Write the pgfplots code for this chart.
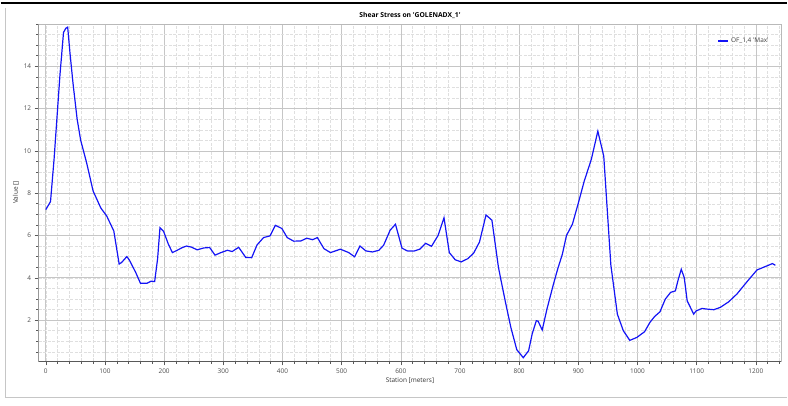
\documentclass[border=0pt]{standalone}
\usepackage{fontspec}
\usepackage{pgfplots}
\pgfplotsset{compat=1.18}
\newfontfamily\uifont{Open Sans}
\setmainfont{Open Sans}
\definecolor{lineblue}{RGB}{20,20,245}
\begin{document}
\begin{tikzpicture}[font=\uifont]
\path (0,0) rectangle (788bp,406bp);
\draw[black, line width=1.5bp] (0,403bp) -- (788bp,403bp);
\draw[gray!45, line width=1.2bp] (5bp,398bp) -- (5bp,8bp) -- (788bp,8bp);
\begin{axis}[
  at={(38bp,44bp)}, anchor=south west,
  scale only axis, width=744bp, height=338bp,
  xmin=-12, xmax=1243, ymin=0.05, ymax=16,
  xtick={0,100,...,1200},
  minor xtick={-0,20,...,1240},
  ytick={2,4,...,14},
  minor ytick={0.5,1,...,16},
  xtick pos=left, ytick pos=left,
  tick align=outside,
  major tick length=4bp, minor tick length=2.5bp,
  every tick/.style={gray!70!black, line width=0.5bp},
  grid=both,
  major grid style={gray!45, line width=0.6bp},
  minor grid style={gray!25, dash pattern=on 3bp off 1.5bp, line width=0.4bp},
  axis line style={gray!55, line width=0.6bp},
  /pgf/number format/assume math mode=true,
  /pgf/number format/1000 sep={},
  tick label style={font=\uifont\fontsize{6.5}{7}\selectfont, text=black!70},
  xlabel={Station [meters]},
  ylabel={Value []},
  xlabel style={font=\uifont\fontsize{6.5}{7}\selectfont, text=black!80, yshift=3bp},
  ylabel style={font=\uifont\fontsize{6.5}{7}\selectfont, text=black!80, yshift=-2bp},
  title={Shear Stress on 'GOLENADX\_1'},
  title style={font=\uifont\bfseries\fontsize{6.8}{8}\selectfont, yshift=-4bp},
  legend style={draw=none, fill=none, at={(0.99,0.97)}, anchor=north east,
    font=\uifont\fontsize{6.5}{7}\selectfont},
  legend cell align=left,
]
\addplot[color=lineblue, line width=1.2bp,
  legend image code/.code={\draw[lineblue, line width=2bp] (0bp,0bp) -- (10bp,0bp);}] coordinates {
(0,7.22) (8,7.6) (14,9.6) (19,11.6) (24,13.6) (30,15.6) (34,15.8) (37,15.85)
(41,14.6) (46,13.2) (53,11.5) (59,10.5) (69,9.44) (80,8.1) (93,7.3) (103,6.92)
(115,6.21) (124,4.65) (128,4.72) (137,5.0) (141,4.85) (152,4.25) (160,3.74)
(171,3.74) (178,3.84) (184,3.82) (189,4.9) (193,6.37) (199,6.2) (207,5.6)
(214,5.19) (222,5.3) (231,5.43) (238,5.5) (246,5.45) (256,5.32) (267,5.41)
(277,5.43) (286,5.07) (296,5.19) (307,5.3) (315,5.24) (326,5.44) (338,4.96)
(348,4.95) (357,5.55) (368,5.9) (379,5.98) (388,6.48) (399,6.33) (408,5.9)
(419,5.73) (431,5.74) (441,5.87) (451,5.8) (459,5.9) (470,5.38) (481,5.19)
(498,5.35) (512,5.19) (522,4.99) (531,5.5) (541,5.27) (552,5.22) (563,5.3)
(571,5.54) (582,6.25) (591,6.53) (602,5.4) (611,5.27) (622,5.26) (632,5.35)
(642,5.63) (652,5.49) (663,6.0) (673,6.84) (682,5.19) (692,4.85) (702,4.75)
(713,4.9) (723,5.16) (733,5.69) (744,6.97) (754,6.72) (765,4.5) (769,3.93)
(777,2.83) (786,1.65) (796,0.6) (807,0.22) (816,0.55) (822,1.34) (829,1.97)
(832,1.95) (839,1.53) (847,2.52) (858,3.7) (865,4.4) (873,5.11) (880,6.0)
(890,6.53) (901,7.63) (910,8.57) (922,9.6) (933,10.93) (943,9.75) (955,4.6)
(966,2.28) (976,1.5) (987,1.04) (999,1.18) (1012,1.45) (1021,1.89) (1029,2.17)
(1038,2.39) (1047,2.99) (1056,3.31) (1064,3.38) (1069,3.93) (1074,4.4)
(1079,4.01) (1084,2.91) (1095,2.28) (1099,2.43) (1109,2.55) (1117,2.52)
(1129,2.49) (1140,2.6) (1154,2.86) (1168,3.23) (1185,3.81) (1202,4.37)
(1216,4.53) (1228,4.67) (1233,4.59)
};
\addlegendentry{\textcolor{black!75}{OF\_1,4 'Max'}}
\draw[gray!70!black, line width=0.8bp] (rel axis cs:0,1) -- (rel axis cs:0,0) -- (rel axis cs:1,0);
\end{axis}
\end{tikzpicture}
\end{document}
